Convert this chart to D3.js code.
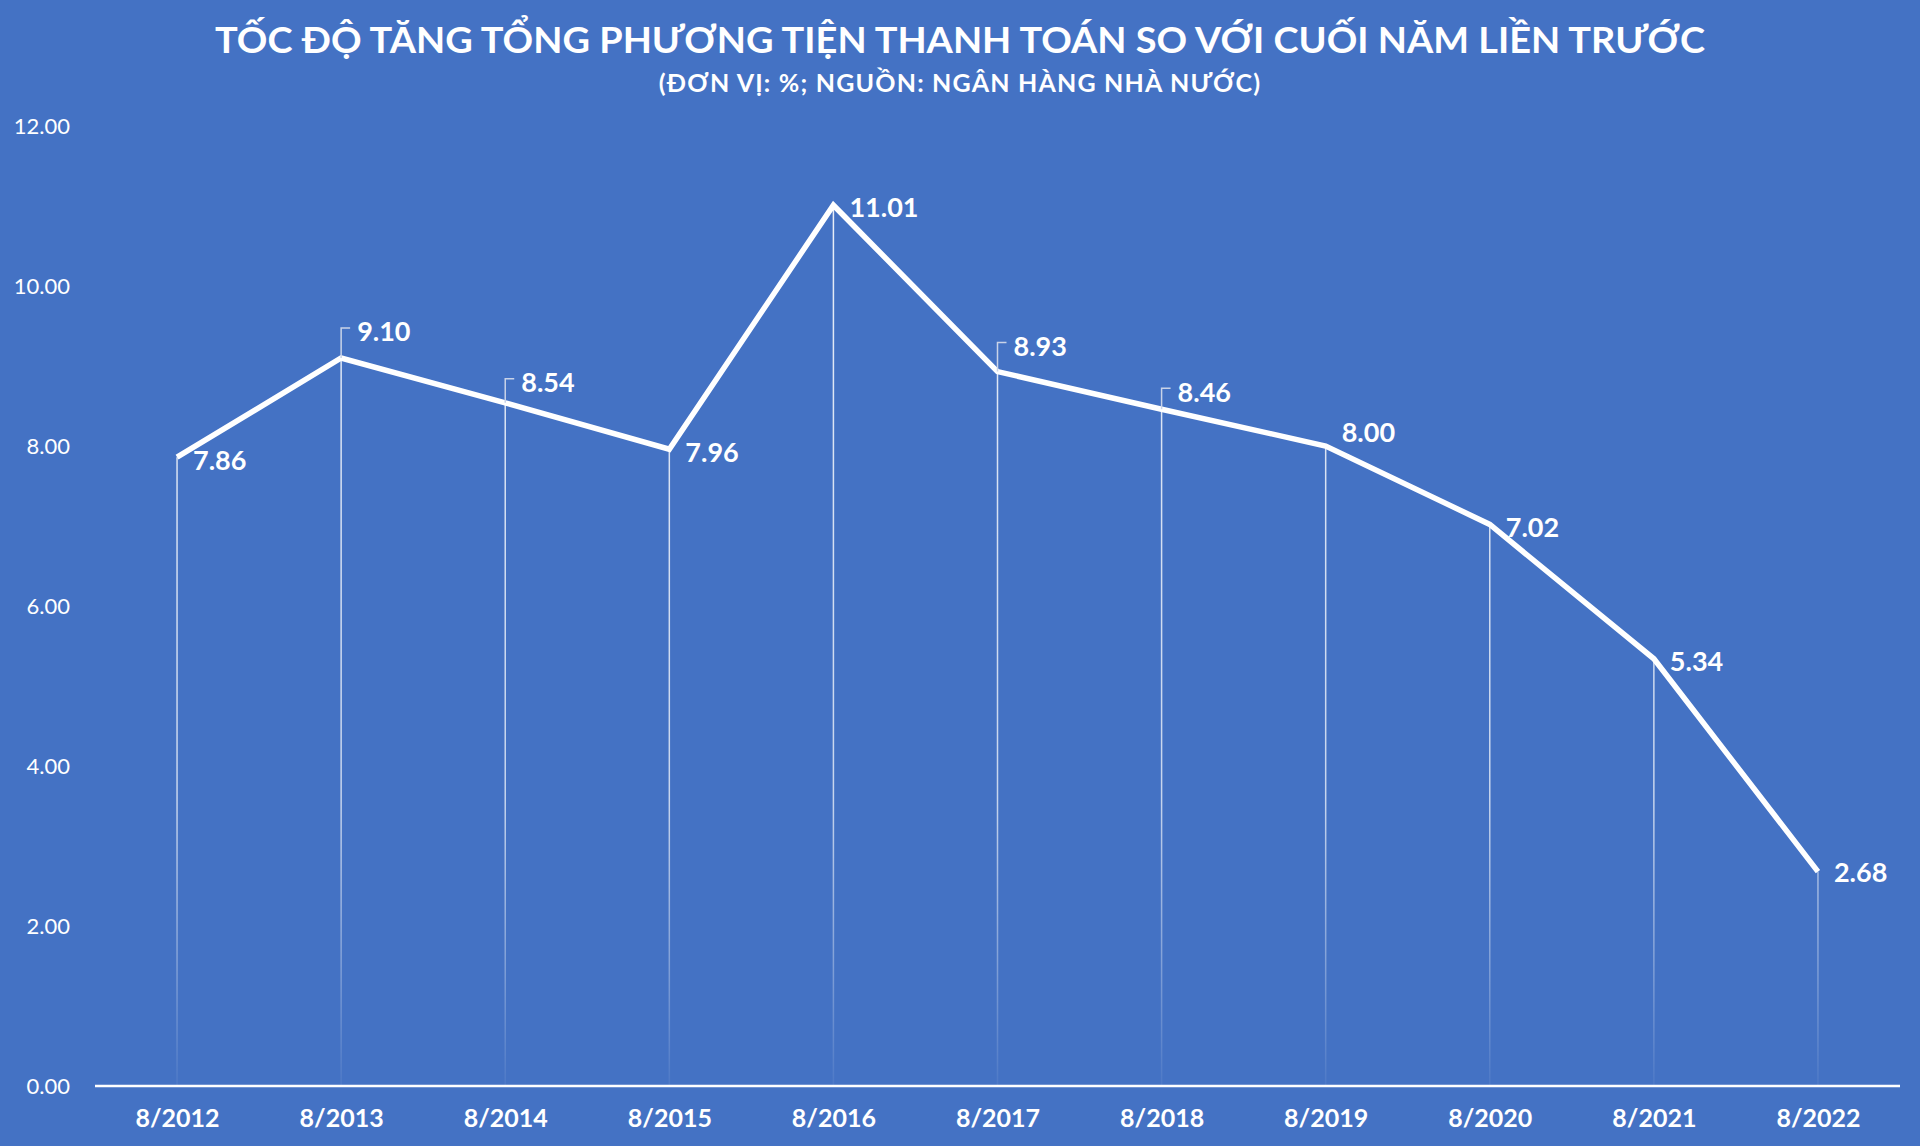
<!DOCTYPE html>
<html>
<head>
<meta charset="utf-8">
<script src="https://cdn.jsdelivr.net/npm/d3@7"></script>
<style>
  body { margin: 0; background: #4472c4; }
  svg { display: block; }
</style>
</head>
<body>
<div id="chart"></div>
<script>
// chart data
const categories = ["8/2012", "8/2013", "8/2014", "8/2015", "8/2016", "8/2017",
                    "8/2018", "8/2019", "8/2020", "8/2021", "8/2022"];
const growth = [7.86, 9.10, 8.54, 7.96, 11.01, 8.93, 8.46, 8.00, 7.02, 5.34, 2.68];
const yTicks = [0, 2, 4, 6, 8, 10, 12];

const titleText = "TỐC ĐỘ TĂNG TỔNG PHƯƠNG TIỆN THANH TOÁN SO VỚI CUỐI NĂM LIỀN TRƯỚC";
const subtitleText = "(ĐƠN VỊ: %; NGUỒN: NGÂN HÀNG NHÀ NƯỚC)";

// vertical nudge of each data label (label placement, not data)
const labelShift = [3, -26, -20, 3, 2, -25, -17, -13, 3, 3, 1];

const width = 1920;
const height = 1146;
const margin = {left: 95, right: 20, top: 126, bottom: 60};
const font = "Lato, 'Open Sans', sans-serif";

const svg = d3.select("#chart")
  .append("svg")
  .attr("width", width)
  .attr("height", height);

svg.append("rect")
  .attr("width", width)
  .attr("height", height)
  .attr("fill", "#4472c4");

// fading drop lines
const defs = svg.append("defs");
const grad = defs.append("linearGradient")
  .attr("id", "drop")
  .attr("gradientUnits", "userSpaceOnUse")
  .attr("x1", 0).attr("x2", 0)
  .attr("y1", margin.top).attr("y2", height - margin.bottom);
grad.append("stop").attr("offset", "0%").attr("stop-color", "#fff").attr("stop-opacity", 0.9);
grad.append("stop").attr("offset", "70%").attr("stop-color", "#fff").attr("stop-opacity", 0.7);
grad.append("stop").attr("offset", "100%").attr("stop-color", "#fff").attr("stop-opacity", 0.05);

// scales
const x = d3.scalePoint()
  .domain(categories)
  .range([margin.left, width - margin.right])
  .padding(0.5);

const y = d3.scaleLinear()
  .domain([0, 12])
  .range([height - margin.bottom, margin.top]);

// title
svg.append("text")
  .attr("x", width / 2)
  .attr("y", 53)
  .attr("text-anchor", "middle")
  .attr("font-family", font)
  .attr("font-weight", "bold")
  .attr("font-size", 36)
  .attr("textLength", 1490)
  .attr("lengthAdjust", "spacingAndGlyphs")
  .attr("fill", "#fff")
  .text(titleText);

svg.append("text")
  .attr("x", width / 2)
  .attr("y", 92)
  .attr("text-anchor", "middle")
  .attr("font-family", font)
  .attr("font-weight", "bold")
  .attr("font-size", 25)
  .attr("letter-spacing", 1.2)
  .attr("fill", "#fff")
  .text(subtitleText);

// y axis labels only
const yAxis = svg.append("g")
  .attr("transform", `translate(70,0)`)
  .call(d3.axisLeft(y).tickValues(yTicks).tickFormat(d3.format(".2f")).tickSize(0).tickPadding(0));
yAxis.select(".domain").remove();
yAxis.selectAll("text")
  .attr("font-family", font)
  .attr("font-size", 22)
  .attr("fill", "#fff");

// drop lines
svg.selectAll(".drop")
  .data(growth)
  .enter()
  .append("line")
  .attr("class", "drop")
  .attr("x1", (d, i) => x(categories[i]))
  .attr("x2", (d, i) => x(categories[i]))
  .attr("y1", d => y(d))
  .attr("y2", y(0))
  .attr("stroke", "url(#drop)")
  .attr("stroke-width", 1.5);

// x axis
const xAxis = svg.append("g")
  .attr("transform", `translate(0,${y(0)})`)
  .call(d3.axisBottom(x).tickSize(0).tickPadding(23));
xAxis.select(".domain")
  .attr("d", `M${margin.left},0H${width - margin.right}`)
  .attr("stroke", "#fff")
  .attr("stroke-width", 2.5);
xAxis.selectAll("text")
  .attr("font-family", font)
  .attr("font-weight", "bold")
  .attr("font-size", 25)
  .attr("fill", "#fff");

// line
const line = d3.line()
  .x((d, i) => x(categories[i]))
  .y(d => y(d));

svg.append("path")
  .datum(growth)
  .attr("d", line)
  .attr("fill", "none")
  .attr("stroke", "#fff")
  .attr("stroke-width", 5.5)
  .attr("stroke-linejoin", "miter");

// leader lines for lifted labels
svg.selectAll(".leader")
  .data(d3.range(growth.length).filter(i => labelShift[i] <= -15))
  .enter()
  .append("path")
  .attr("class", "leader")
  .attr("d", i => {
    const px = x(categories[i]), py = y(growth[i]);
    const ly = py + labelShift[i] - 4;
    return `M${px},${py}V${ly}H${px + 9}`;
  })
  .attr("fill", "none")
  .attr("stroke", "#c9d3e8")
  .attr("stroke-width", 1.5);

// data labels
svg.selectAll(".lbl")
  .data(growth)
  .enter()
  .append("text")
  .attr("class", "lbl")
  .attr("x", (d, i) => x(categories[i]) + 16)
  .attr("y", (d, i) => y(d) + labelShift[i])
  .attr("dy", "0.35em")
  .attr("font-family", font)
  .attr("font-weight", "bold")
  .attr("font-size", 27)
  .attr("fill", "#fff")
  .text(d => d.toFixed(2));
</script>
</body>
</html>
